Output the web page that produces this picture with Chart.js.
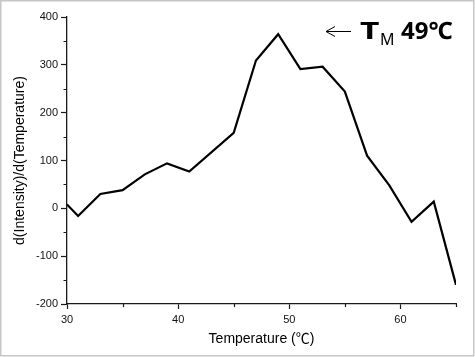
<!DOCTYPE html>
<html><head><meta charset="utf-8">
<script src="https://cdn.jsdelivr.net/npm/chart.js@4/dist/chart.umd.min.js"></script>
<style>html,body{margin:0;padding:0;background:#fff;}canvas{display:block;}</style>
</head><body>
<canvas id="c" width="475" height="357"></canvas>
<script>
const temperatures = [30, 31, 33, 35, 37, 39, 41, 45, 47, 49, 51, 53, 55, 57, 59, 61, 63, 65];
const derivative   = [8, -16, 30, 38, 71, 94, 77, 158, 309, 364, 291, 296, 244, 110, 48, -28, 14, -160];
const xMajorTicks = [30, 40, 50, 60];
const xMinorTicks = [35, 45, 55, 65];
const yMajorTicks = [-200, -100, 0, 100, 200, 300, 400];
const yMinorTicks = [-150, -50, 50, 150, 250, 350];
const xTitle = 'Temperature (℃)';
const yTitle = 'd(Intensity)/d(Temperature)';
const labelMain = 'T';
const labelSub = 'M';
const labelValue = '49℃';

const AXIS = '#1a1a1a';
const tickFont = {family: "'Liberation Sans', Arial, sans-serif", size: 11};
const titleFont = {family: "'Liberation Sans', 'Noto Sans CJK KR', sans-serif", size: 14};

const decor = {
  id: 'decor',
  beforeDraw(chart) {
    const ctx = chart.ctx;
    ctx.save();
    ctx.fillStyle = '#fff';
    ctx.fillRect(0, 0, chart.width, chart.height);
    ctx.restore();
  },
  afterDraw(chart) {
    const ctx = chart.ctx;
    const xs = chart.scales.x, ys = chart.scales.y;
    const a = chart.chartArea;
    ctx.save();
    // minor ticks
    ctx.strokeStyle = AXIS;
    ctx.lineWidth = 1.2;
    ctx.beginPath();
    xMinorTicks.forEach(v => {
      const px = Math.round(xs.getPixelForValue(v)) + 0.5;
      ctx.moveTo(px, a.bottom);
      ctx.lineTo(px, a.bottom + 3);
    });
    yMinorTicks.forEach(v => {
      const py = Math.round(ys.getPixelForValue(v)) + 0.5;
      ctx.moveTo(a.left, py);
      ctx.lineTo(a.left - 3.5, py);
    });
    ctx.stroke();

    // annotation arrow
    ctx.strokeStyle = '#000';
    ctx.lineWidth = 1;
    ctx.beginPath();
    ctx.moveTo(351, 31.5); ctx.lineTo(326, 31.5);
    ctx.moveTo(335, 26.5); ctx.lineTo(326, 31.5); ctx.lineTo(335, 36.5);
    ctx.stroke();

    // annotation text
    ctx.fillStyle = '#000';
    ctx.textBaseline = 'alphabetic';
    ctx.textAlign = 'left';
    ctx.font = "bold 24px 'Noto Sans', 'Noto Sans CJK KR', sans-serif";
    ctx.save();
    ctx.translate(360, 38.5);
    ctx.scale(1.4, 1);
    ctx.fillText(labelMain, 0, 0);
    ctx.restore();
    ctx.font = "16px 'Noto Sans', sans-serif";
    ctx.fillText(labelSub, 380, 44.5);
    ctx.font = "bold 24px 'Noto Sans', 'Noto Sans CJK KR', sans-serif";
    ctx.fillText(labelValue, 401, 38.5);

    // frame
    ctx.strokeStyle = '#c6c6c6';
    ctx.lineWidth = 1.5;
    ctx.strokeRect(0.75, 0.75, 473, 355);
    ctx.restore();
  }
};

new Chart(document.getElementById('c'), {
  type: 'line',
  data: {
    datasets: [{
      data: temperatures.map((t, i) => ({x: t, y: derivative[i]})),
      borderColor: '#000',
      borderWidth: 2.2,
      pointRadius: 0,
      tension: 0,
      fill: false,
      borderJoinStyle: 'miter'
    }]
  },
  options: {
    responsive: false,
    animation: false,
    devicePixelRatio: 1,
    layout: {padding: {left: 0, top: 17, right: 19, bottom: 0}},
    plugins: {legend: {display: false}, tooltip: {enabled: false}},
    scales: {
      x: {
        type: 'linear', min: 30, max: 65,
        afterBuildTicks: s => { s.ticks = xMajorTicks.map(v => ({value: v})); },
        afterFit: s => { s.height = 53; },
        grid: {drawOnChartArea: false, drawTicks: true, tickLength: 5, tickColor: AXIS, tickWidth: 1.2},
        border: {color: AXIS, width: 1.3},
        ticks: {font: tickFont, color: '#111', padding: 4, maxRotation: 0, autoSkip: false},
        title: {display: true, text: xTitle, font: titleFont, color: '#000', padding: {top: 0, bottom: 9}}
      },
      y: {
        type: 'linear', min: -200, max: 400,
        afterBuildTicks: s => { s.ticks = yMajorTicks.map(v => ({value: v})); },
        afterFit: s => { s.width = 67; },
        grid: {drawOnChartArea: false, drawTicks: true, tickLength: 6, tickColor: AXIS, tickWidth: 1.2},
        border: {color: AXIS, width: 1.3},
        ticks: {font: tickFont, color: '#111', padding: 3},
        title: {display: true, text: yTitle, font: titleFont, color: '#000', padding: {top: 12, bottom: 0}}
      }
    }
  },
  plugins: [decor]
});
</script>
</body></html>
